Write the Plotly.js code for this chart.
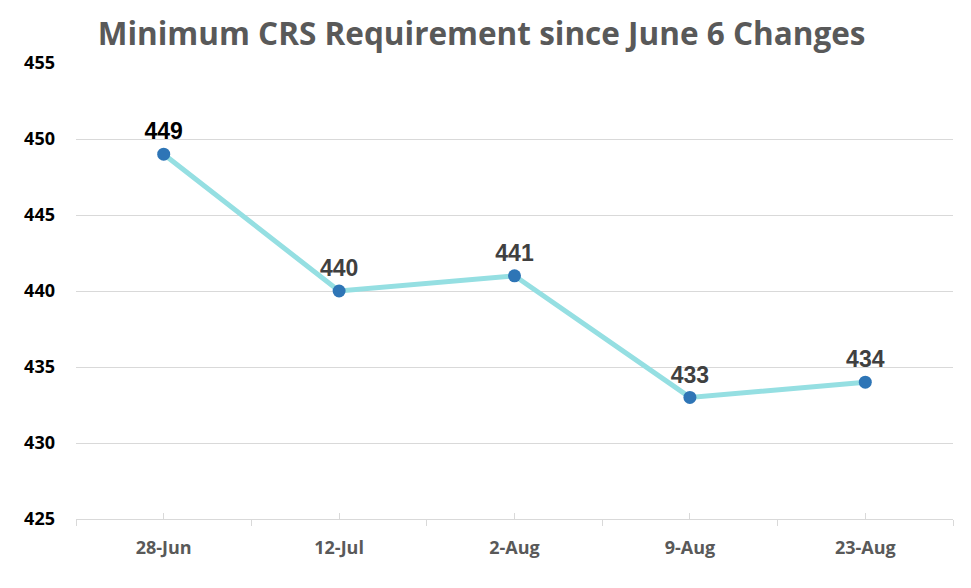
<!DOCTYPE html>
<html>
<head>
<meta charset="utf-8">
<script src="https://cdn.plot.ly/plotly-3.0.1.min.js"></script>
<style>html,body{margin:0;padding:0;background:#fff;}#chart{width:971px;height:588px;}</style>
</head>
<body>
<div id="chart"></div>
<script>
const categories = ["28-Jun", "12-Jul", "2-Aug", "9-Aug", "23-Aug"];
const crsValues = [449, 440, 441, 433, 434];
const yTicks = [425, 430, 435, 440, 445, 450, 455];
const labelColors = ["#000000", "#404040", "#404040", "#404040", "#404040"];

const trace = {
  x: categories,
  y: crsValues,
  type: "scatter",
  mode: "lines+markers+text",
  text: crsValues.map(String),
  textposition: "top center",
  textfont: {family: "Liberation Sans, Arial, sans-serif", size: 23, color: labelColors, weight: "bold"},
  line: {color: "#95dfe2", width: 5},
  marker: {color: "#2e75b6", size: 13},
  cliponaxis: false,
  hoverinfo: "x+y"
};
const centerTicks = {
  x: categories, y: crsValues, xaxis: "x2", type: "scatter", mode: "none", hoverinfo: "skip", showlegend: false
};

const layout = {
  width: 971, height: 588,
  margin: {l: 76, r: 18, t: 63, b: 69},
  paper_bgcolor: "#ffffff", plot_bgcolor: "#ffffff",
  showlegend: false,
  title: {
    text: "<b>Minimum CRS Requirement since June 6 Changes</b>",
    font: {family: "Open Sans, sans-serif", size: 31.5, color: "#595959"},
    x: 0.496, xanchor: "center", y: 0.943, yanchor: "middle"
  },
  xaxis: {
    type: "category",
    tickson: "boundaries",
    ticks: "outside", ticklen: 6, tickcolor: "#d9d9d9", tickwidth: 1,
    showline: true, linecolor: "#d9d9d9", linewidth: 1,
    showgrid: false, zeroline: false,
    ticklabelstandoff: 12,
    tickfont: {family: "Open Sans, sans-serif", size: 18, color: "#595959", weight: "bold"},
    range: [-0.5, 4.5],
    fixedrange: true
  },
  xaxis2: {
    type: "category", overlaying: "x", matches: "x", side: "bottom",
    ticks: "inside", ticklen: 6, tickcolor: "#d9d9d9", tickwidth: 1,
    showticklabels: false, showgrid: false, showline: false, zeroline: false,
    range: [-0.5, 4.5]
  },
  yaxis: {
    range: [425, 455],
    tickvals: yTicks,
    ticktext: yTicks.map(String),
    showgrid: true, gridcolor: "#d9d9d9", gridwidth: 1,
    zeroline: false, showline: false, ticks: "",
    ticklabelstandoff: 20,
    tickfont: {family: "Open Sans, sans-serif", size: 18, color: "#000000", weight: "bold"},
    fixedrange: true
  }
};

Plotly.newPlot("chart", [centerTicks, trace], layout, {displayModeBar: false, staticPlot: false});
</script>
</body>
</html>
